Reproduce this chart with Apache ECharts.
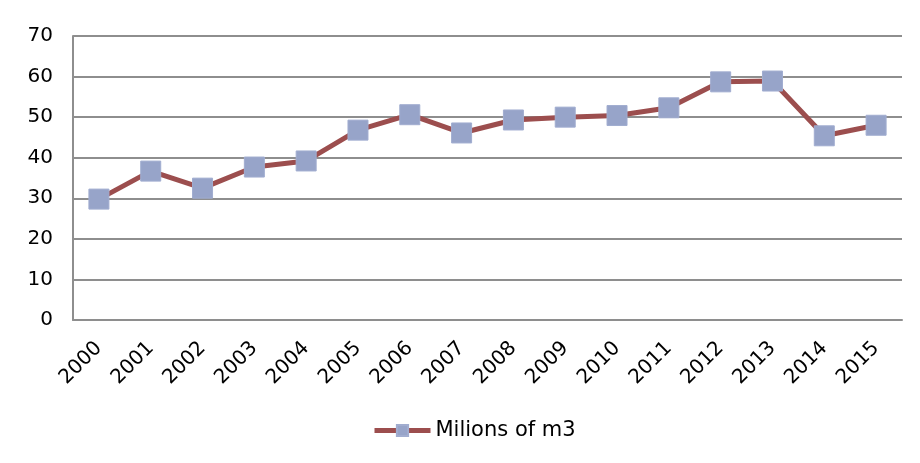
<!DOCTYPE html>
<html>
<head>
<meta charset="utf-8">
<script src="https://cdn.jsdelivr.net/npm/echarts@6/dist/echarts.min.js"></script>
<style>
  html, body { margin: 0; padding: 0; background: #ffffff; }
  #chart { width: 920px; height: 463px; }
</style>
</head>
<body>
<div id="chart"></div>
<script>
// Annual volume, millions of cubic metres
const years = ['2000','2001','2002','2003','2004','2005','2006','2007',
               '2008','2009','2010','2011','2012','2013','2014','2015'];
const volumes = [29.8, 36.7, 32.5, 37.7, 39.2, 46.8, 50.6, 46.1,
                 49.3, 50.0, 50.4, 52.3, 58.7, 58.9, 45.4, 48.0];
const seriesName = 'Milions of m3';
const yTicks = { min: 0, max: 70, interval: 10 };

const font = 'Verdana, "DejaVu Sans", sans-serif';
const gridGray = '#8E8E8E';
const lineRed = '#9C4E4E';
const markerBlue = '#97A4C9';

const chart = echarts.init(document.getElementById('chart'), null, { renderer: 'canvas' });
chart.setOption({
  animation: false,
  backgroundColor: '#ffffff',
  grid: { left: 73, right: 18, top: 36, bottom: 143, containLabel: false },
  legend: {
    data: [seriesName],
    left: 367,
    top: 415,
    itemWidth: 56,
    itemHeight: 14,
    itemGap: 4,
    lineStyle: { width: 5, color: lineRed },
    textStyle: { fontFamily: font, fontSize: 21, color: '#000000' }
  },
  xAxis: {
    type: 'category',
    data: years,
    boundaryGap: true,
    axisLine: { show: true, lineStyle: { color: gridGray, width: 2 } },
    axisTick: { show: false },
    axisLabel: {
      rotate: 45,
      margin: 25,
      fontFamily: font,
      fontSize: 20,
      color: '#000000',
      interval: 0
    }
  },
  yAxis: {
    type: 'value',
    min: yTicks.min,
    max: yTicks.max,
    interval: yTicks.interval,
    axisLine: { show: true, lineStyle: { color: gridGray, width: 2 } },
    axisTick: { show: false },
    splitLine: { show: true, lineStyle: { color: gridGray, width: 2 } },
    axisLabel: {
      margin: 20,
      fontFamily: font,
      fontSize: 20,
      color: '#000000'
    }
  },
  series: [{
    name: seriesName,
    type: 'line',
    data: volumes,
    symbol: 'rect',
    symbolSize: 20,
    lineStyle: { color: lineRed, width: 5 },
    itemStyle: { color: markerBlue, borderColor: '#A1ADD0', borderWidth: 1 },
    emphasis: { disabled: true }
  }]
});
</script>
</body>
</html>
